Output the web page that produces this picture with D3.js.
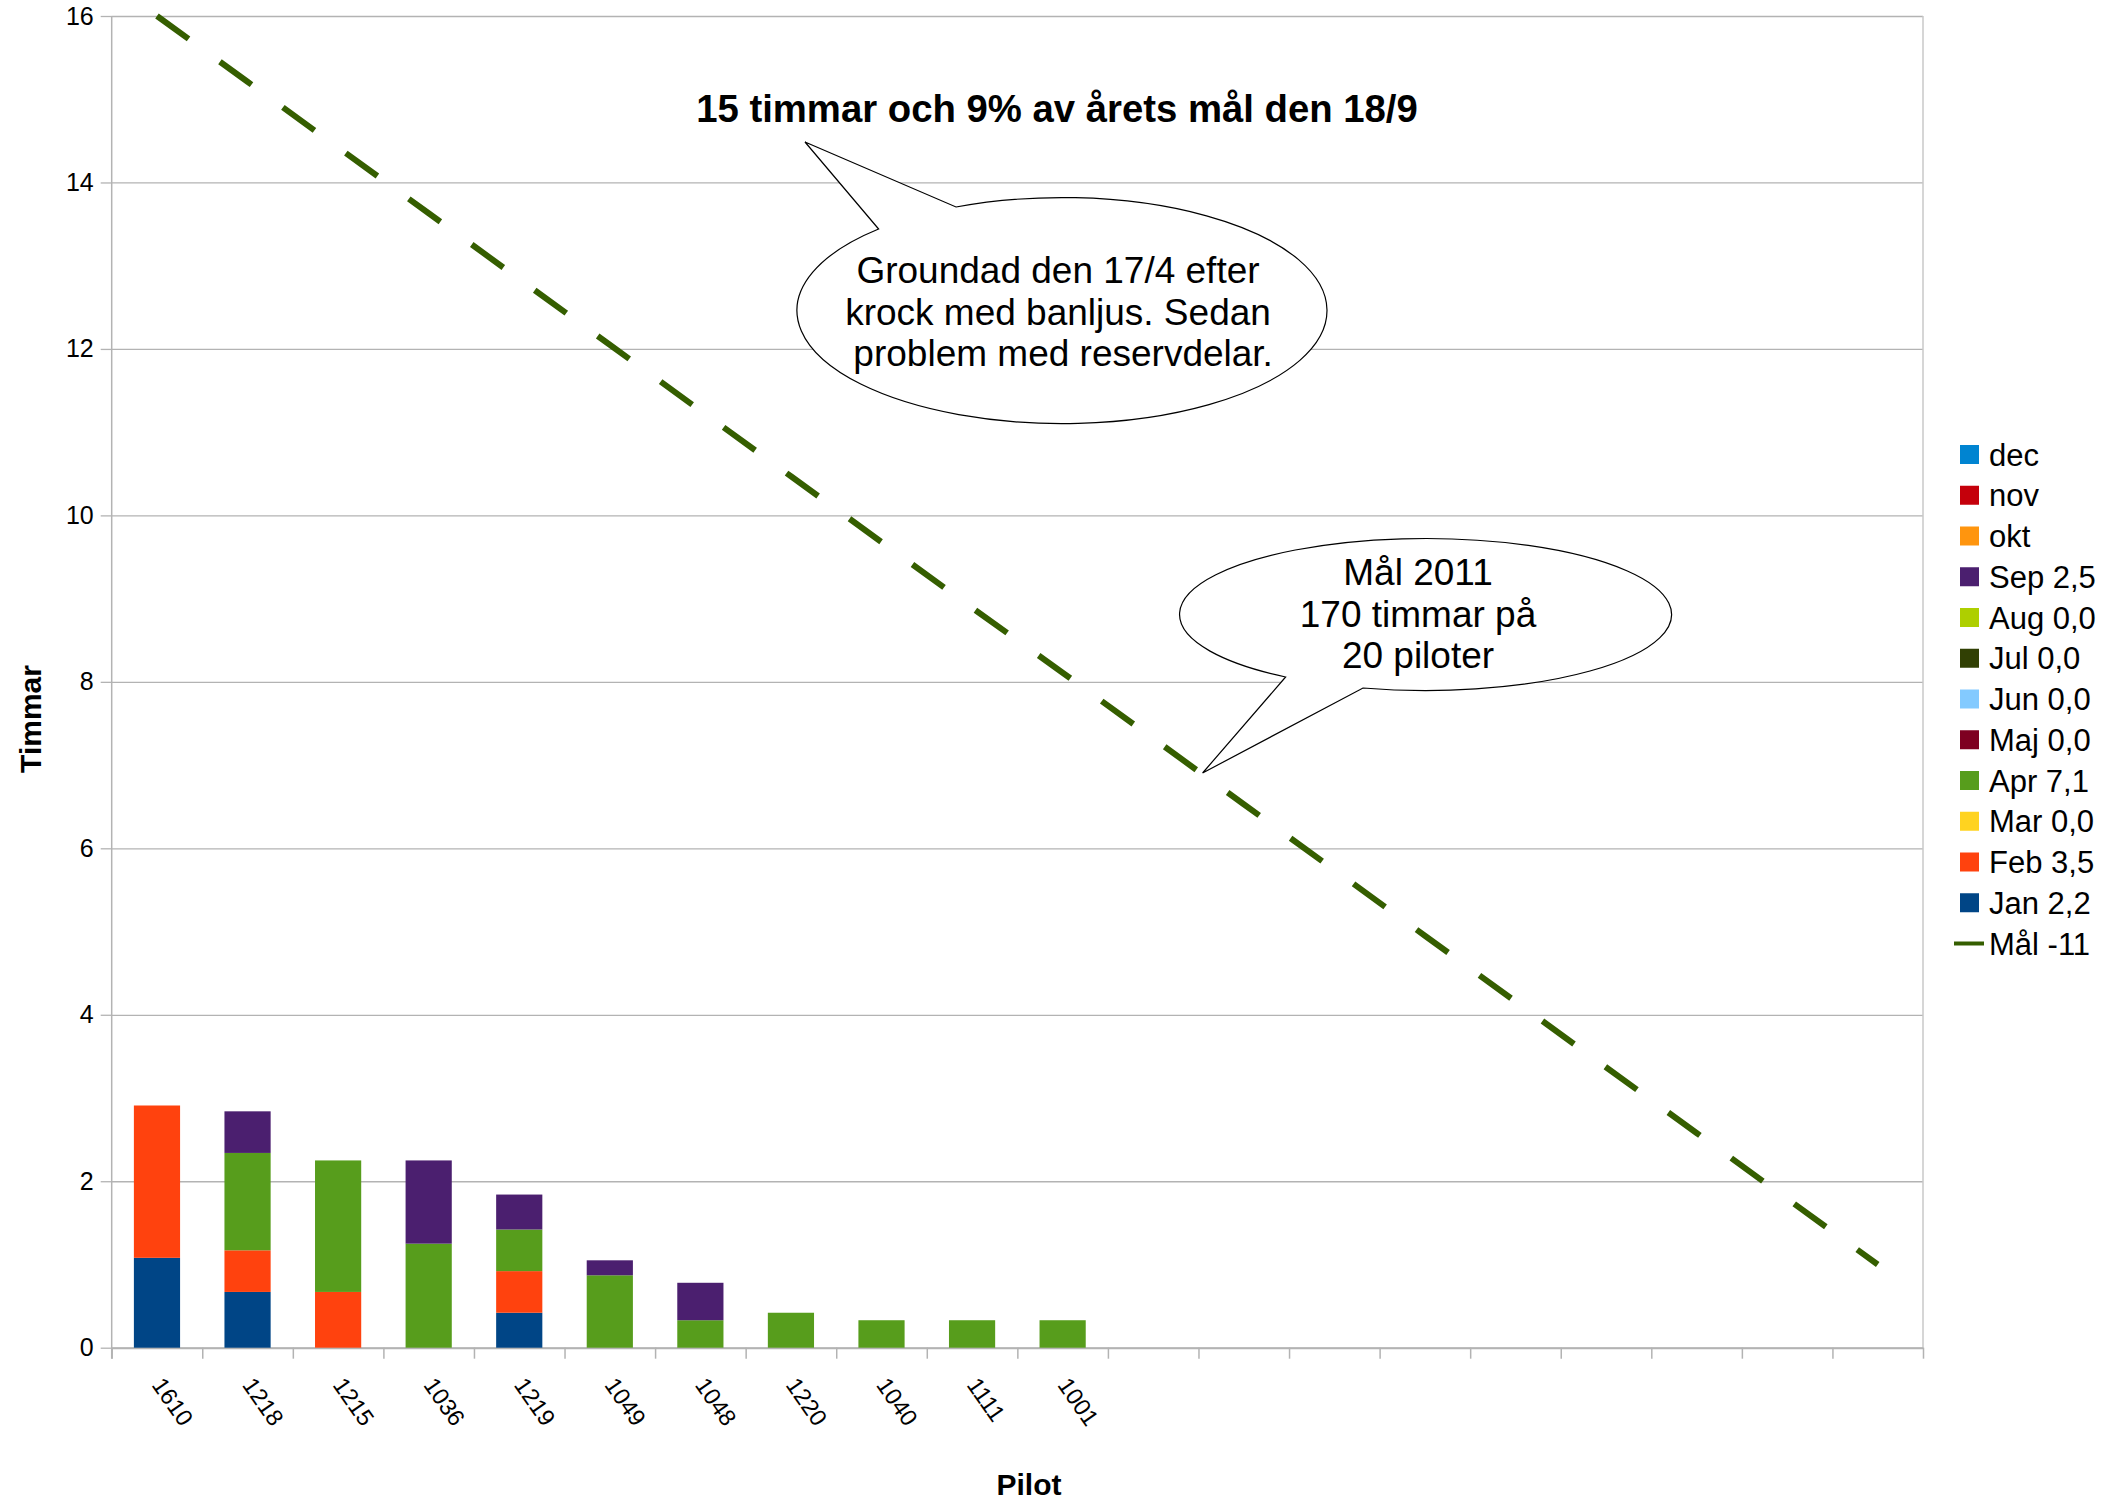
<!DOCTYPE html>
<html>
<head>
<meta charset="utf-8">
<script src="https://d3js.org/d3.v7.min.js"></script>
<style>
body{margin:0;background:#fff;}
text{font-family:"Liberation Sans",Arial,sans-serif;fill:#000;}
</style>
</head>
<body>
<svg id="chart"></svg>
<script>
// flight hours per pilot 2011, stacked per month, plus the yearly goal line

var pilots = ["1610","1218","1215","1036","1219","1049","1048","1220","1040","1111","1001"];
var months = ["Jan","Feb","Mar","Apr","Maj","Jun","Jul","Aug","Sep","okt","nov","dec"];

var jan = [1.08, 0.67, 0,    0,    0.42, 0,    0,    0,    0,    0,    0   ];
var feb = [1.83, 0.50, 0.67, 0,    0.50, 0,    0,    0,    0,    0,    0   ];
var mar = [0,    0,    0,    0,    0,    0,    0,    0,    0,    0,    0   ];
var apr = [0,    1.17, 1.58, 1.25, 0.50, 0.87, 0.33, 0.42, 0.33, 0.33, 0.33];
var maj = [0,    0,    0,    0,    0,    0,    0,    0,    0,    0,    0   ];
var jun = [0,    0,    0,    0,    0,    0,    0,    0,    0,    0,    0   ];
var jul = [0,    0,    0,    0,    0,    0,    0,    0,    0,    0,    0   ];
var aug = [0,    0,    0,    0,    0,    0,    0,    0,    0,    0,    0   ];
var sep = [0,    0.50, 0,    1.00, 0.42, 0.18, 0.45, 0,    0,    0,    0   ];
var okt = [0,    0,    0,    0,    0,    0,    0,    0,    0,    0,    0   ];
var nov = [0,    0,    0,    0,    0,    0,    0,    0,    0,    0,    0   ];
var dec = [0,    0,    0,    0,    0,    0,    0,    0,    0,    0,    0   ];

// goal "Mål -11": 170 hours over 20 pilots
var goal = [16, 15.21, 14.42, 13.63, 12.84, 12.05, 11.26, 10.47, 9.68, 8.89,
            8.11, 7.32, 6.53, 5.74, 4.95, 4.16, 3.37, 2.58, 1.79, 1.0];

var legendLabels = ["dec","nov","okt","Sep 2,5","Aug 0,0","Jul 0,0","Jun 0,0","Maj 0,0",
                    "Apr 7,1","Mar 0,0","Feb 3,5","Jan 2,2","Mål -11"];
var yTicks = [0, 2, 4, 6, 8, 10, 12, 14, 16];

var headline = "15 timmar och 9% av årets mål den 18/9";
var note1 = ["Groundad den 17/4 efter", "krock med banljus. Sedan", " problem med reservdelar."];
var note2 = ["Mål 2011", "170 timmar på", "20 piloter"];

// LibreOffice default palette, Jan..dec
var colors = ["#004586","#ff420e","#ffd320","#579d1c","#7e0021","#83caff",
              "#314004","#aecf00","#4b1f6f","#ff950e","#c5000b","#0084d1"];
var goalColor = "#355e00";
var gridColor = "#b3b3b3";

var width = 2106, height = 1501;
var m = {l:111.7, r:1923, t:16, b:1347.7};

var svg = d3.select("#chart").attr("width", width).attr("height", height);
svg.append("rect").attr("width", width).attr("height", height).attr("fill", "#fff");

var x = d3.scaleBand().domain(d3.range(goal.length)).range([m.l, m.r]);
var xEdge = d3.scaleLinear().domain([0, goal.length]).range([m.l, m.r]);
var y = d3.scaleLinear().domain([0, 16]).range([m.b, m.t]);
var barW = x.bandwidth() * 0.51;

// gridlines
var grid = svg.append("g").attr("transform", "translate(" + m.l + ",0)")
	.call(d3.axisLeft(y).tickValues(yTicks).tickSize(-(m.r - m.l)).tickFormat(""));
grid.select(".domain").remove();
grid.selectAll("line").attr("stroke", gridColor).attr("stroke-width", 1.3);

// right frame
svg.append("line").attr("x1", m.r).attr("x2", m.r).attr("y1", m.t).attr("y2", m.b)
	.attr("stroke", "#c8c8c8").attr("stroke-width", 1.5);

// y axis
var yAxis = svg.append("g").attr("transform", "translate(" + m.l + ",0)")
	.call(d3.axisLeft(y).tickValues(yTicks).tickSize(11).tickSizeOuter(0).tickPadding(7));
yAxis.select(".domain").attr("d", "M0," + m.t + "V" + (m.b + 11)).attr("stroke", gridColor).attr("stroke-width", 1.5);
yAxis.selectAll("line").attr("stroke", gridColor).attr("stroke-width", 1.3);
yAxis.selectAll("text").style("font-size", "25px").style("font-family", "Liberation Sans, Arial, sans-serif").attr("fill", "#000");

// x axis: ticks on category edges
var xAxis = svg.append("g").attr("transform", "translate(0," + m.b + ")")
	.call(d3.axisBottom(xEdge).tickValues(d3.range(goal.length + 1)).tickSize(11).tickSizeOuter(0).tickFormat(""));
xAxis.select(".domain").attr("stroke", gridColor).attr("stroke-width", 2);
xAxis.selectAll("line").attr("stroke", gridColor).attr("stroke-width", 1.5);

// stacked bars
var series = [jan, feb, mar, apr, maj, jun, jul, aug, sep, okt, nov, dec];
var rows = pilots.map(function(p, i){
	var r = {pilot: p, i: i};
	months.forEach(function(k, j){ r[k] = series[j][i]; });
	return r;
});
var stack = d3.stack().keys(months)(rows);

svg.append("g").selectAll("g").data(stack).enter().append("g")
	.attr("fill", function(d, j){ return colors[j]; })
	.selectAll("rect").data(function(d){ return d.filter(function(v){ return v[1] > v[0]; }); })
	.enter().append("rect")
	.attr("x", function(d){ return x(d.data.i) + (x.bandwidth() - barW) / 2; })
	.attr("width", barW)
	.attr("y", function(d){ return y(d[1]); })
	.attr("height", function(d){ return y(d[0]) - y(d[1]); });

// goal line
var line = d3.line()
	.x(function(d, i){ return x(i) + x.bandwidth() / 2; })
	.y(function(d){ return y(d); });
svg.append("path").datum(goal).attr("d", line)
	.attr("fill", "none").attr("stroke", goalColor).attr("stroke-width", 6)
	.attr("stroke-dasharray", "39,38.8");

// x labels, rotated
svg.append("g").selectAll("text").data(pilots).enter().append("text")
	.attr("transform", function(d, i){
		return "translate(" + (x(i) + x.bandwidth() / 2 - 6) + ",1385)rotate(55)";
	})
	.style("font-size", "23.5px")
	.text(function(d){ return d; });

// axis titles
svg.append("text").attr("transform", "translate(41,719)rotate(-90)")
	.attr("text-anchor", "middle").style("font-size", "30px").style("font-weight", "bold")
	.text("Timmar");
svg.append("text").attr("x", 1029).attr("y", 1495)
	.attr("text-anchor", "middle").style("font-size", "30px").style("font-weight", "bold")
	.text("Pilot");

// legend
var legendColors = colors.slice().reverse();
var leg = svg.append("g").selectAll("g").data(legendLabels).enter().append("g")
	.attr("transform", function(d, i){ return "translate(0," + (454.5 + i * 40.75) + ")"; });
leg.each(function(d, i){
	var g = d3.select(this);
	if (i < legendColors.length) {
		g.append("rect").attr("x", 1960).attr("y", -9.5).attr("width", 19).attr("height", 19)
			.attr("fill", legendColors[i]);
	} else {
		g.append("line").attr("x1", 1954).attr("x2", 1984).attr("y1", 0).attr("y2", 0)
			.attr("stroke", goalColor).attr("stroke-width", 4);
	}
	g.append("text").attr("x", 1989).attr("y", 11).style("font-size", "31px").text(d);
});

// callouts: ellipse with a wedge pointing at tip
function callout(c, lines, sweep){
	var p = "M" + c.b1 + "L" + c.tip + "L" + c.b2 +
		"A" + c.rx + "," + c.ry + " 0 1 " + sweep + " " + c.b1 + "Z";
	svg.append("path").attr("d", p).attr("fill", "#fff").attr("stroke", "#000").attr("stroke-width", 1.2);
	svg.append("g").selectAll("text").data(lines).enter().append("text")
		.attr("x", c.cx).attr("y", function(d, i){ return c.y0 + i * 41.5; })
		.attr("text-anchor", "middle").style("font-size", "37px").style("white-space", "pre")
		.text(function(d){ return d; });
}
callout({cx:1058, rx:265, ry:113, b1:[878.6,229], b2:[956,207], tip:[805,142], y0:283}, note1, 1);
callout({cx:1418, rx:246, ry:76, b1:[1285.6,677], b2:[1363,688], tip:[1202.6,773], y0:585}, note2, 0);

svg.append("text").attr("x", 1057).attr("y", 121.7).attr("text-anchor", "middle")
	.style("font-size", "38.3px").style("font-weight", "bold").text(headline);
</script>
</body>
</html>
